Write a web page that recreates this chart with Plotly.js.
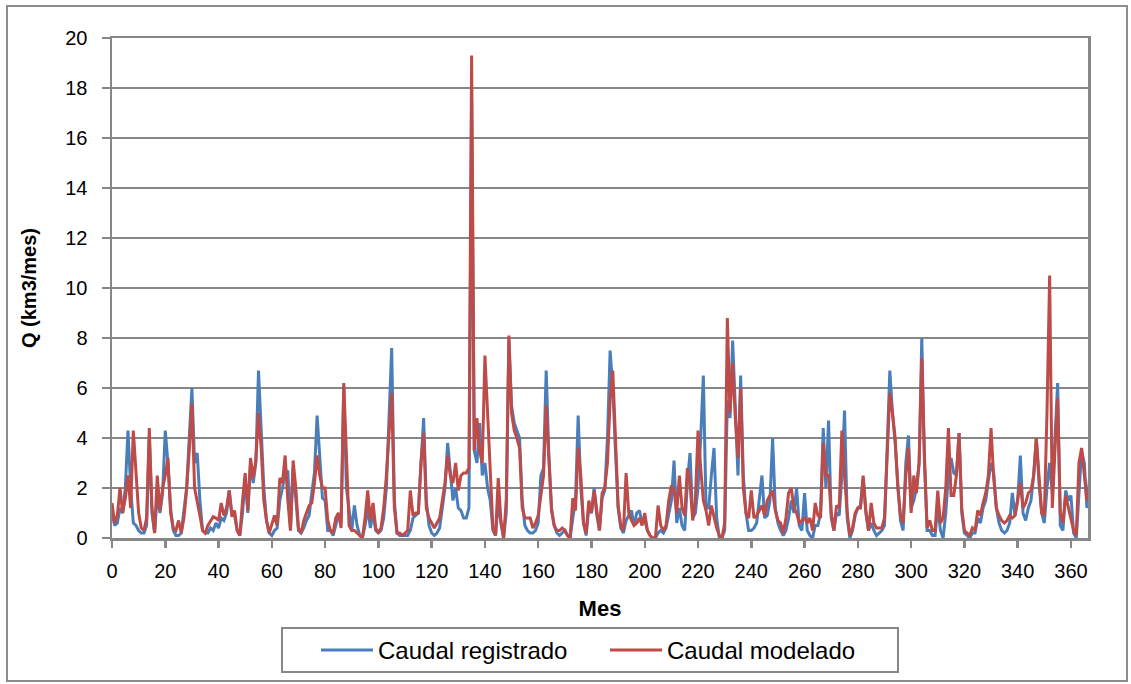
<!DOCTYPE html>
<html>
<head>
<meta charset="utf-8">
<script src="https://cdn.plot.ly/plotly-3.0.1.min.js"></script>
<style>
html,body{margin:0;padding:0;background:#fff;}
#chart{width:1131px;height:684px;}
</style>
</head>
<body>
<div id="chart"></div>
<script>
// Month index (x) and flows
const seriesNames = ["Caudal registrado", "Caudal modelado"];
const xTickVals = [0,20,40,60,80,100,120,140,160,180,200,220,240,260,280,300,320,340,360];
const yTickVals = [0,2,4,6,8,10,12,14,16,18,20];

const caudalRegistrado = [
1.0,0.5,0.6,1.2,1.0,2.0,4.3,2.0,0.6,0.5,
0.3,0.2,0.2,0.5,4.0,1.0,0.2,1.8,1.0,1.8,
4.3,3.0,1.2,0.3,0.1,0.1,0.2,1.0,2.0,4.0,
6.0,3.0,3.4,1.5,0.3,0.2,0.2,0.4,0.3,0.6,
0.4,0.8,0.7,1.0,1.9,1.0,0.9,0.3,0.1,1.0,
2.4,1.0,3.0,2.2,3.0,6.7,4.0,2.0,0.7,0.2,
0.1,0.3,0.4,1.5,2.0,2.6,2.7,0.3,2.8,1.6,
0.3,0.2,0.4,0.7,0.9,1.8,2.6,4.9,3.0,1.6,
1.5,0.3,0.3,0.1,0.5,1.0,0.6,6.1,2.0,1.2,
0.3,1.3,0.5,0.1,0.0,0.5,1.2,0.4,1.0,0.3,
0.2,0.3,0.8,2.0,4.5,7.6,1.5,0.2,0.1,0.1,
0.1,0.1,0.3,0.8,0.9,1.0,3.0,4.8,1.5,0.5,
0.2,0.1,0.2,0.4,1.2,2.0,3.8,2.5,1.5,2.0,
1.2,1.1,0.8,0.8,1.2,17.5,3.5,3.0,4.6,2.5,
3.0,2.0,1.5,0.3,0.1,1.5,0.6,0.0,1.0,7.9,
5.3,4.6,4.3,4.0,1.5,0.5,0.3,0.2,0.2,0.3,
0.6,2.5,2.8,6.7,3.3,1.2,0.5,0.2,0.1,0.2,
0.3,0.1,0.0,0.8,1.5,4.9,2.0,0.6,0.1,1.2,
1.0,2.0,0.9,0.3,1.6,1.9,4.0,7.5,6.0,3.5,
1.2,0.4,0.2,0.7,0.9,1.1,0.5,1.0,1.1,0.6,
0.7,0.3,0.1,0.0,0.0,0.2,0.3,0.2,0.4,1.0,
1.5,3.1,0.6,1.2,0.5,0.3,2.2,3.4,0.8,1.0,
2.0,4.0,6.5,1.2,1.2,2.5,3.6,0.8,0.0,0.0,
0.3,5.5,4.8,7.9,5.0,2.5,6.5,2.5,1.0,0.3,
0.3,0.4,0.6,1.5,2.5,0.8,0.9,1.5,4.0,1.2,
0.6,0.3,0.1,0.3,0.8,1.5,1.0,2.0,0.5,0.3,
1.8,0.3,0.1,0.0,0.5,0.5,1.0,4.4,2.0,4.7,
0.8,0.3,1.0,0.9,2.5,5.1,0.8,0.0,0.3,0.9,
1.2,1.3,2.4,1.0,0.3,0.6,0.3,0.1,0.2,0.3,
0.5,3.5,6.7,5.0,3.8,2.2,0.7,0.3,3.0,4.1,
1.2,1.5,2.0,3.0,8.0,3.0,0.3,0.3,0.1,0.1,
1.3,0.3,0.0,1.0,2.5,3.2,2.6,2.5,4.2,1.0,
0.2,0.1,0.0,0.2,0.2,0.8,0.6,1.2,1.5,2.3,
3.0,2.6,1.2,0.6,0.3,0.2,0.3,0.6,1.8,0.9,
1.5,3.3,1.0,0.7,1.2,1.5,2.5,4.0,2.2,1.0,
0.6,2.0,3.0,1.8,4.0,6.2,0.5,0.3,1.9,1.5,
1.7,0.2,0.0,2.0,3.5,3.0,1.2,2.4
];

const caudalModelado = [
1.4,0.6,0.9,2.0,1.0,1.6,2.5,1.2,4.3,2.5,
1.0,0.4,0.3,0.8,4.4,1.2,0.2,2.5,1.1,2.0,
2.5,3.2,1.0,0.4,0.3,0.7,0.2,0.8,1.9,3.5,
5.4,2.0,1.5,0.9,0.3,0.2,0.5,0.7,0.85,0.8,
0.7,1.4,0.9,1.2,1.9,0.85,1.1,0.3,0.1,1.5,
2.6,1.1,3.2,2.4,3.1,5.0,3.6,1.5,0.7,0.2,
0.6,0.9,0.5,2.4,2.2,3.3,1.5,0.3,3.1,2.0,
0.4,0.2,0.7,1.0,1.3,1.4,2.2,3.3,2.5,2.0,
2.0,0.7,0.3,0.2,0.8,1.0,0.4,6.2,3.0,0.5,
0.3,0.3,0.2,0.1,0.0,0.8,1.9,0.7,1.4,0.4,
0.2,0.4,1.2,2.5,4.0,5.8,1.2,0.2,0.2,0.1,
0.2,0.3,1.9,0.9,1.0,1.0,3.0,4.2,1.2,0.8,
0.6,0.4,0.6,0.8,1.5,2.2,3.3,2.5,2.2,3.0,
1.9,2.5,2.6,2.6,2.8,19.3,3.5,4.8,3.5,3.0,
7.3,5.0,3.0,0.4,0.1,2.4,0.7,0.0,1.5,8.1,
5.0,4.3,4.0,3.6,1.2,0.8,0.8,0.8,0.4,0.6,
0.9,1.7,2.5,5.3,3.0,1.1,0.5,0.3,0.3,0.4,
0.3,0.1,0.05,1.6,1.1,3.6,2.5,0.6,0.2,1.5,
1.0,1.9,1.1,0.3,1.8,2.0,3.0,5.5,6.7,4.0,
1.3,0.5,0.3,2.6,1.0,0.7,0.5,0.6,0.8,0.5,
1.0,0.3,0.1,0.0,0.0,1.3,0.5,0.3,0.5,1.5,
2.1,1.9,1.0,2.5,1.2,0.9,2.8,2.2,0.7,1.5,
4.3,2.8,1.5,1.1,0.5,1.3,0.8,0.4,0.1,0.0,
0.6,8.8,5.0,7.0,4.8,3.2,6.0,2.0,1.0,0.8,
1.9,0.8,0.9,1.1,1.3,0.9,1.5,1.7,1.9,1.1,
0.7,0.6,0.2,0.8,1.8,2.0,1.2,1.0,0.6,0.7,
0.8,0.6,0.8,0.3,1.4,0.9,0.8,3.8,2.5,2.5,
1.0,0.3,1.3,1.2,4.3,2.5,1.0,0.1,0.4,1.0,
1.2,1.2,2.5,1.1,0.3,1.4,0.6,0.4,0.4,0.4,
0.8,3.0,5.8,5.0,4.0,2.0,0.9,0.6,2.5,3.6,
1.0,2.5,1.8,3.0,7.2,3.3,0.4,0.7,0.3,0.3,
1.9,0.6,0.8,2.0,4.4,1.7,1.7,2.5,4.2,1.2,
0.3,0.2,0.1,0.4,0.3,1.1,0.9,1.4,1.8,2.5,
4.4,2.4,1.2,0.9,0.7,0.6,0.7,0.9,0.8,0.9,
1.5,2.2,1.2,1.4,1.8,1.9,2.5,4.0,2.5,1.0,
0.9,5.0,10.5,1.2,3.5,5.6,1.0,0.6,1.7,1.2,
0.8,0.3,0.1,3.0,3.6,2.5,1.5,1.9
];

const months = caudalRegistrado.map((_, i) => i);

const gridColor = "#878787";
const fontFamily = "'Liberation Sans', Arial, sans-serif";

const traces = [
  {x: months, y: caudalRegistrado, name: seriesNames[0], type: "scatter", mode: "lines",
   line: {color: "#4a7ebb", width: 3}},
  {x: months, y: caudalModelado, name: seriesNames[1], type: "scatter", mode: "lines",
   line: {color: "#be4b48", width: 3}}
];

const layout = {
  width: 1131, height: 684,
  margin: {l: 112, r: 43, t: 38, b: 146, autoexpand: false},
  paper_bgcolor: "#ffffff", plot_bgcolor: "#ffffff",
  font: {family: fontFamily, color: "#000000", size: 20},
  showlegend: true,
  legend: {orientation: "h", x: (316 - 112) / 976, xanchor: "left", y: -0.18, yanchor: "top",
           borderwidth: 0, bgcolor: "rgba(0,0,0,0)", font: {size: 24}, traceorder: "normal",
           itemwidth: 52, entrywidth: 222, entrywidthmode: "pixels"},
  xaxis: {
    range: [0, 366.4], tickvals: xTickVals, ticktext: xTickVals.map(String),
    showgrid: false, zeroline: false, showline: true, linecolor: gridColor, linewidth: 2.5,
    mirror: true, ticks: "outside", ticklen: 7, tickwidth: 2.5, tickcolor: gridColor,
    tickfont: {size: 20}, ticklabelstandoff: 6,
    title: {text: "<b>Mes</b>", font: {size: 22}, standoff: 20}
  },
  yaxis: {
    range: [0, 20], tickvals: yTickVals, ticktext: yTickVals.map(String),
    showgrid: true, gridcolor: gridColor, gridwidth: 2.5, zeroline: false,
    showline: true, linecolor: gridColor, linewidth: 2.5, mirror: true,
    ticks: "outside", ticklen: 8, tickwidth: 2.5, tickcolor: gridColor,
    tickfont: {size: 20}, ticklabelstandoff: 10,
    title: {text: "<b>Q (km3/mes)</b>", font: {size: 20}, standoff: 24}
  },
  shapes: [
    {type: "rect", xref: "paper", yref: "paper",
     x0: (7 - 112) / 976, x1: (1127 - 112) / 976,
     y0: (538 - 681) / 500, y1: (538 - 6) / 500,
     line: {color: "#8c8c8c", width: 2}, fillcolor: "rgba(0,0,0,0)", layer: "below"},
    {type: "rect", xref: "paper", yref: "paper",
     x0: (282 - 112) / 976, x1: (898 - 112) / 976,
     y0: (538 - 672) / 500, y1: (538 - 628) / 500,
     line: {color: gridColor, width: 2}, fillcolor: "rgba(0,0,0,0)", layer: "below"}
  ]
};

Plotly.newPlot("chart", traces, layout, {displayModeBar: false, staticPlot: true});
</script>
</body>
</html>
